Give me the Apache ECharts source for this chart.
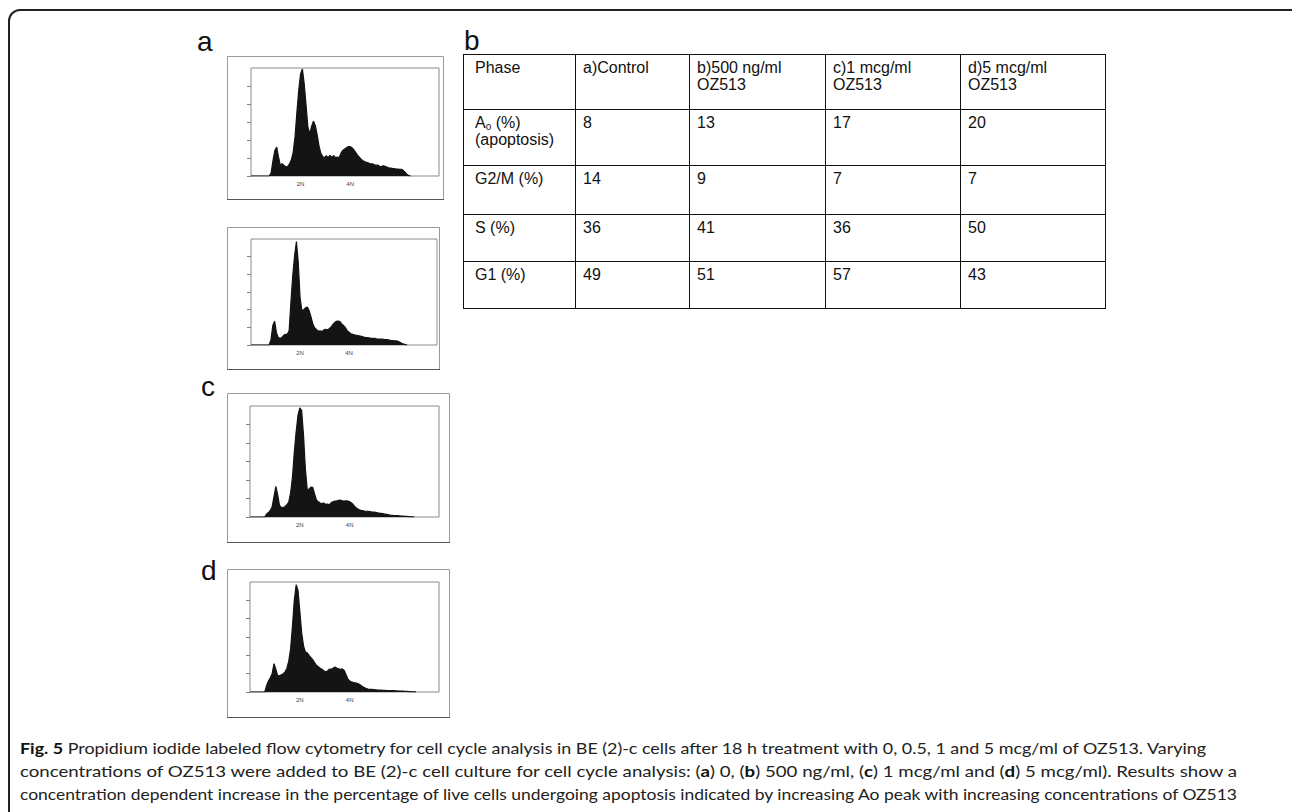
<!DOCTYPE html>
<html><head><meta charset="utf-8">
<script src="https://cdn.jsdelivr.net/npm/echarts@6/dist/echarts.min.js"></script>
<style>
html,body{margin:0;padding:0;background:#fff;}
#wrap{position:relative;width:1292px;height:812px;overflow:hidden;background:#fff;}
#chart{position:absolute;left:0;top:0;width:1292px;height:812px;}
#frame{position:absolute;left:8px;top:9px;width:1300px;height:830px;border:2px solid #222;border-radius:12px;box-sizing:border-box;}
#tbl{position:absolute;left:463px;top:54px;border-collapse:collapse;table-layout:fixed;font-family:"Liberation Sans",Arial,sans-serif;font-size:16px;color:#111;}
#tbl td{border:1px solid #111;vertical-align:top;padding:4px 2px 0 7px;line-height:17px;white-space:nowrap;}
#tbl td:first-child{padding-left:11px;}
#tbl sub{font-size:10px;vertical-align:-2px;line-height:0;}
.cap{position:absolute;left:20px;white-space:nowrap;font-family:Lato,"Noto Sans",sans-serif;font-size:16px;color:#222;transform-origin:0 0;line-height:20px;}
.cap b{color:#111;}
</style></head>
<body>
<div id="wrap">
  <div id="chart"></div>
  <div id="frame"></div>
  <table id="tbl"></table>
  <div class="cap" id="cap1" style="top:738px" data-w="1186"></div>
  <div class="cap" id="cap2" style="top:761px" data-w="1217"></div>
  <div class="cap" id="cap3" style="top:784px" data-w="1217"></div>
</div>
<script>
// ---------- DATA ----------
const channelBin = 10;              // channel width of each histogram bin (channels 0..1024)
const ploidyChannels = [270, 540];  // DNA content markers
const ploidyLabels = ['2N', '4N'];
const yTickValues = [0, 100, 200, 300, 400, 500];
const panelLetters = ['a', 'c', 'd'];
const tableLetter = 'b';

// a) Control
const histA = [0,0,0,0,0,0,0,0,0,0,0,
 20,87,142,161,105,59,68,59,50,54,68,90,133,220,354,478,567,594,511,391,271,234,275,305,281,231,170,127,109,102,113,102,114,105,113,102,105,102,127,142,150,157,164,164,157,146,131,116,105,94,85,79,76,72,68,68,63,59,61,54,52,57,54,50,46,44,42,41,39,39,37,37,30,20,9,2,0];
// b) 500 ng/ml OZ513
const histB = [0,0,0,0,0,0,0,0,0,0,0,
 30,110,135,70,42,38,42,55,60,62,80,246,395,505,585,470,270,195,200,210,215,195,160,120,98,88,78,80,76,84,89,85,92,100,115,126,134,136,133,118,110,98,80,72,64,60,57,55,53,51,49,45,43,42,40,38,38,37,35,34,34,33,32,31,30,28,26,25,24,23,21,16,10,6,2,0];
// c) 1 mcg/ml OZ513
const histC = [0,0,0,0,0,0,0,0,0,
 16,24,35,56,110,165,120,62,52,50,57,66,80,130,215,350,460,550,590,575,440,260,150,150,162,160,125,92,82,76,72,76,68,70,66,78,82,86,87,90,92,88,86,88,86,83,76,66,54,46,40,36,34,32,31,30,29,27,26,25,23,21,20,18,16,14,12,10,9,8,7,7,6,5,5,3,3,2,1,1,0];
// d) 5 mcg/ml OZ513
const histD = [0,0,0,0,0,0,0,0,0,
 36,60,78,100,155,125,88,90,94,100,110,130,168,235,360,500,585,555,440,322,252,218,214,200,188,176,160,146,138,130,124,116,110,115,125,124,130,136,131,127,124,126,118,96,72,60,55,51,50,47,43,37,29,24,18,16,15,14,13,12,11,11,10,9,9,8,8,7,7,7,6,6,5,5,5,4,3,2,2,1,1,0];

// table
const phaseLabels = ['Phase', 'A<sub>o</sub> (%)<br>(apoptosis)', 'G2/M (%)', 'S (%)', 'G1 (%)'];
const treatmentLabels = ['a)Control', 'b)500 ng/ml<br>OZ513', 'c)1 mcg/ml<br>OZ513', 'd)5 mcg/ml<br>OZ513'];
const apoptosisPct = [8, 13, 17, 20];
const g2mPct = [14, 9, 7, 7];
const sPct = [36, 41, 36, 50];
const g1Pct = [49, 51, 57, 43];

// caption
const captionLines = [
 '<b>Fig. 5</b> Propidium iodide labeled flow cytometry for cell cycle analysis in BE (2)-c cells after 18 h treatment with 0, 0.5, 1 and 5 mcg/ml of OZ513. Varying',
 'concentrations of OZ513 were added to BE (2)-c cell culture for cell cycle analysis: (<b>a</b>) 0, (<b>b</b>) 500 ng/ml, (<b>c</b>) 1 mcg/ml and (<b>d</b>) 5 mcg/ml). Results show a',
 'concentration dependent increase in the percentage of live cells undergoing apoptosis indicated by increasing Ao peak with increasing concentrations of OZ513'
];

// ---------- LAYOUT ----------
const plotBoxes = [
 {left:251, top:68, width:188, height:108},
 {left:251, top:239, width:186, height:106},
 {left:250, top:406, width:189, height:111},
 {left:250, top:582, width:189, height:110}
];
const frameBoxes = [
 {x:227, y:56, w:216, h:143},
 {x:227, y:227, w:212, h:142},
 {x:227, y:393, w:222, h:149},
 {x:227, y:569, w:222, h:148}
];
const letterPos = [{x:197, y:41}, {x:201, y:386}, {x:201, y:570}];
const tableLetterPos = {x:464, y:40};

const hists = [histA, histB, histC, histD];

const grids = [], xAxes = [], yAxes = [], series = [];
hists.forEach((h, i) => {
  grids.push(Object.assign({show:true, borderColor:'#8c8c8c', borderWidth:1, backgroundColor:'transparent', containLabel:false}, plotBoxes[i]));
  xAxes.push({
    type:'value', gridIndex:i, min:0, max:1024,
    axisLine:{show:false}, axisTick:{show:false}, splitLine:{show:false},
    axisLabel:{show:true, customValues:ploidyChannels, fontSize:6, color:'#444', margin:5,
      fontFamily:'Liberation Sans',
      formatter:(v)=>{const k=ploidyChannels.indexOf(v); return k>=0?ploidyLabels[k]:'';}}
  });
  yAxes.push({
    type:'value', gridIndex:i, min:0, max:600,
    axisLine:{show:false}, splitLine:{show:false},
    axisTick:{show:true, customValues:yTickValues, length:4, inside:false, lineStyle:{color:'#808080', width:1}},
    axisLabel:{show:false}
  });
  series.push({
    type:'line', xAxisIndex:i, yAxisIndex:i,
    data: h.map((v, k) => [k*channelBin, v]),
    symbol:'none', silent:true, animation:false,
    lineStyle:{color:'#141414', width:1.2},
    areaStyle:{color:'#141414', opacity:1}
  });
});

const graphics = [];
frameBoxes.forEach(f => {
  graphics.push({type:'rect', silent:true, z:-1, shape:{x:f.x+0.5, y:f.y+0.5, width:f.w, height:f.h},
    style:{fill:'none', stroke:'#9a9a9a', lineWidth:1}});
  graphics.push({type:'line', silent:true, shape:{x1:f.x, y1:f.y+f.h+0.5, x2:f.x+f.w+1, y2:f.y+f.h+0.5},
    style:{stroke:'#555', lineWidth:1.2}});
});
panelLetters.forEach((t, i) => {
  graphics.push({type:'text', silent:true, x:letterPos[i].x, y:letterPos[i].y,
    style:{text:t, font:'28px "Liberation Sans"', fill:'#111', verticalAlign:'middle'}});
});
graphics.push({type:'text', silent:true, x:tableLetterPos.x, y:tableLetterPos.y,
  style:{text:tableLetter, font:'28px "Liberation Sans"', fill:'#111', verticalAlign:'middle'}});

const chart = echarts.init(document.getElementById('chart'), null, {renderer:'svg'});
chart.setOption({
  animation:false,
  backgroundColor:'transparent',
  grid:grids, xAxis:xAxes, yAxis:yAxes, series:series, graphic:graphics
});

// ---------- TABLE ----------
const colWidths = [112, 114, 136, 135, 145];
const rowHeights = [55, 56, 49, 47, 47];
const rowsValues = [treatmentLabels, apoptosisPct, g2mPct, sPct, g1Pct];
const tbl = document.getElementById('tbl');
let html = '<colgroup>' + colWidths.map(w => '<col style="width:'+w+'px">').join('') + '</colgroup>';
rowsValues.forEach((vals, r) => {
  html += '<tr style="height:'+rowHeights[r]+'px"><td>'+phaseLabels[r]+'</td>' + vals.map(v => '<td>'+v+'</td>').join('') + '</tr>';
});
tbl.innerHTML = html;
tbl.style.width = colWidths.reduce((a,b)=>a+b,0) + 'px';

// ---------- CAPTION ----------
captionLines.forEach((t, i) => { document.getElementById('cap'+(i+1)).innerHTML = t; });
function fitCaps(){
  document.querySelectorAll('.cap').forEach(el => {
    el.style.transform = 'none';
    const w = el.getBoundingClientRect().width;
    el.style.transform = 'scaleX(' + (+el.dataset.w / w) + ')';
  });
}
fitCaps();
if (document.fonts && document.fonts.ready) document.fonts.ready.then(fitCaps);
</script>
</body></html>
